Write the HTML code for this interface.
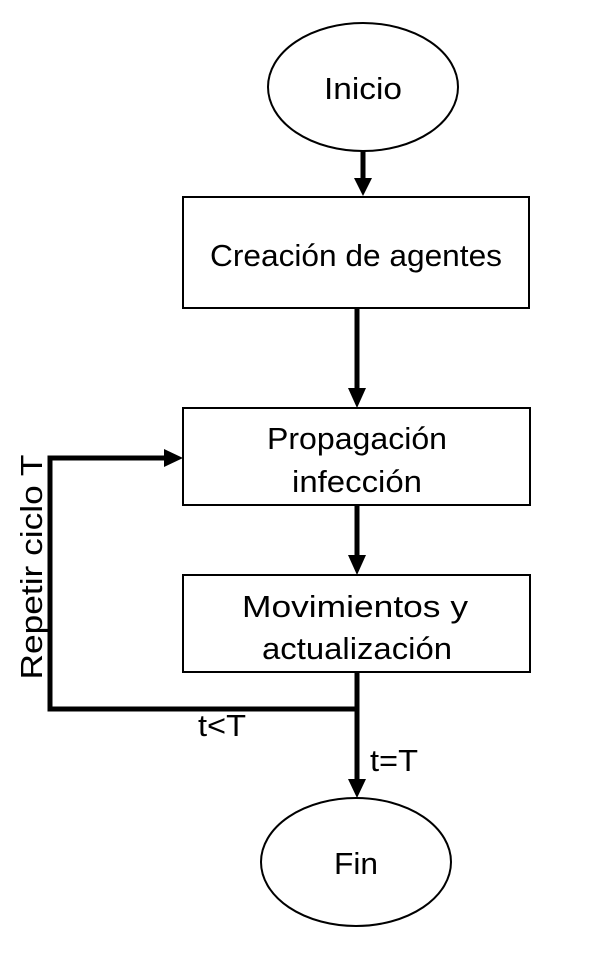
<!DOCTYPE html>
<html><head><meta charset="utf-8"><style>
html,body{margin:0;padding:0;background:#fff;}
svg{display:block;}
text{font-family:"Liberation Sans",sans-serif;font-size:31px;fill:#000;}
</style></head><body>
<svg width="594" height="954" viewBox="0 0 594 954" xmlns="http://www.w3.org/2000/svg">
<rect width="594" height="954" fill="#fff"/>
<ellipse cx="363" cy="87" rx="95" ry="64" fill="none" stroke="#000" stroke-width="2"/>
<text x="363" y="99" text-anchor="middle" textLength="78" lengthAdjust="spacingAndGlyphs">Inicio</text>
<line x1="363" y1="151" x2="363" y2="180" stroke="#000" stroke-width="5"/>
<polygon points="354,178 372,178 363,196" fill="#000"/>
<rect x="183" y="197" width="346" height="111" fill="none" stroke="#000" stroke-width="2"/>
<text x="356" y="266" text-anchor="middle" textLength="292" lengthAdjust="spacingAndGlyphs">Creación de agentes</text>
<line x1="357" y1="308" x2="357" y2="390" stroke="#000" stroke-width="5"/>
<polygon points="348,388 366,388 357,408" fill="#000"/>
<rect x="183" y="408" width="347" height="97" fill="none" stroke="#000" stroke-width="2"/>
<text x="357" y="449" text-anchor="middle" textLength="180" lengthAdjust="spacingAndGlyphs">Propagación</text>
<text x="357" y="492" text-anchor="middle" textLength="130" lengthAdjust="spacingAndGlyphs">infección</text>
<line x1="357" y1="505" x2="357" y2="557" stroke="#000" stroke-width="5"/>
<polygon points="348,555 366,555 357,575" fill="#000"/>
<rect x="183" y="575" width="347" height="97" fill="none" stroke="#000" stroke-width="2"/>
<text x="355" y="617" text-anchor="middle" textLength="226" lengthAdjust="spacingAndGlyphs">Movimientos  y</text>
<text x="357" y="659" text-anchor="middle" textLength="190" lengthAdjust="spacingAndGlyphs">actualización</text>
<line x1="357" y1="672" x2="357" y2="781" stroke="#000" stroke-width="5"/>
<polygon points="348,779 366,779 357,798" fill="#000"/>
<polyline points="357,709 50,709 50,458 166,458" fill="none" stroke="#000" stroke-width="5"/>
<polygon points="164,449 164,467 183,458" fill="#000"/>
<text transform="translate(42,567) rotate(-90)" text-anchor="middle" textLength="225" lengthAdjust="spacingAndGlyphs">Repetir ciclo T</text>
<text x="198" y="736" textLength="48" lengthAdjust="spacingAndGlyphs">t&lt;T</text>
<text x="370" y="771" textLength="48" lengthAdjust="spacingAndGlyphs">t=T</text>
<ellipse cx="356" cy="862" rx="95" ry="64" fill="none" stroke="#000" stroke-width="2"/>
<text x="356" y="874" text-anchor="middle" textLength="44" lengthAdjust="spacingAndGlyphs">Fin</text>
</svg>
</body></html>
